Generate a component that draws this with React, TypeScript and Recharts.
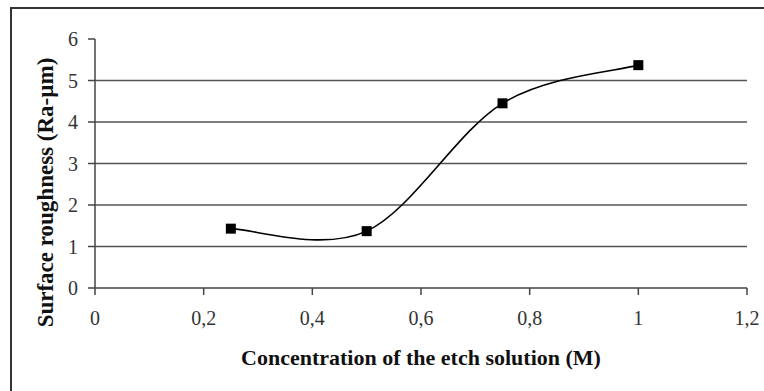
import React from 'react';
import { LineChart, Line, XAxis, YAxis, CartesianGrid, Label } from 'recharts';

// Etch concentration (M) and measured surface roughness (Ra, µm)
const concentration = [0.25, 0.5, 0.75, 1.0];
const roughness = [1.43, 1.37, 4.45, 5.37];

const xTicks = [0, 0.2, 0.4, 0.6, 0.8, 1, 1.2];
const yTicks = [0, 1, 2, 3, 4, 5, 6];
const gridValues = [1, 2, 3, 4, 5];

const data = concentration.map((c, i) => ({ c, ra: roughness[i] }));

// Catmull-Rom style smoothing (control points at 1/6 of neighbouring chord),
// the classic spreadsheet "smoothed line".
const smoothCurve = (context: any) => {
  let pts: [number, number][] = [];
  return {
    areaStart() {},
    areaEnd() {},
    lineStart() {
      pts = [];
    },
    lineEnd() {
      const n = pts.length;
      if (!n) return;
      context.moveTo(pts[0][0], pts[0][1]);
      for (let i = 0; i < n - 1; i++) {
        const p0 = pts[Math.max(i - 1, 0)];
        const p1 = pts[i];
        const p2 = pts[i + 1];
        const p3 = pts[Math.min(i + 2, n - 1)];
        const c1x = p1[0] + (p2[0] - p0[0]) / 6;
        const c1y = p1[1] + (p2[1] - p0[1]) / 6;
        const c2x = p2[0] - (p3[0] - p1[0]) / 6;
        const c2y = p2[1] - (p3[1] - p1[1]) / 6;
        context.bezierCurveTo(c1x, c1y, c2x, c2y, p2[0], p2[1]);
      }
    },
    point(x: number, y: number) {
      pts.push([+x, +y]);
    },
  };
};

const SquareDot = (props: any) => {
  const { cx, cy, index } = props;
  if (cx == null || cy == null) return null;
  return <rect key={`sq-${index}`} x={cx - 5} y={cy - 5} width={10} height={10} fill="#000" />;
};

const fmt = (v: number) => String(v).replace('.', ',');

const serif = '"Liberation Serif", "Times New Roman", serif';

const TickText = (props: any) => {
  const { x, y, payload, textAnchor, dy, axis } = props;
  return (
    <text
      x={x}
      y={y}
      dy={axis === 'x' ? '0.71em' : '0.355em'}
      textAnchor={textAnchor}
      fontFamily={serif}
      fontSize={20}
      fill="#333"
    >
      {fmt(payload.value)}
    </text>
  );
};

export default function App() {
  return (
    <div
      style={{
        position: 'absolute',
        left: 0,
        top: 0,
        width: 764,
        height: 391,
        background: '#fff',
        overflow: 'hidden',
        fontFamily: serif,
      }}
    >
      <div
        style={{
          position: 'absolute',
          left: 10,
          top: 7,
          width: 800,
          height: 420,
          border: '2px solid #333',
          boxSizing: 'border-box',
        }}
      />
      <LineChart
        width={764}
        height={391}
        data={data}
        margin={{ top: 39, right: 17, bottom: 13, left: 15 }}
        style={{ position: 'absolute', left: 0, top: 0, fontFamily: serif }}
      >
        <CartesianGrid horizontal vertical={false} horizontalValues={gridValues} stroke="#555" strokeWidth={1.5} />
        <XAxis
          dataKey="c"
          type="number"
          domain={[0, 1.2]}
          ticks={xTicks}
          height={90}
          tickSize={7}
          tickMargin={16}
          stroke="#444"
          strokeWidth={1.5}
          tick={<TickText axis="x" />}
        >
          <Label
            content={(p: any) => {
              const vb = p.viewBox;
              return (
                <text
                  x={vb.x + vb.width / 2}
                  y={vb.y + 77}
                  textAnchor="middle"
                  fontFamily={serif}
                  fontWeight="bold"
                  fontSize={22}
                  fill="#111"
                >
                  Concentration of the etch solution (M)
                </text>
              );
            }}
          />
        </XAxis>
        <YAxis
          type="number"
          domain={[0, 6]}
          ticks={yTicks}
          width={80}
          tickSize={7}
          tickMargin={10}
          stroke="#444"
          strokeWidth={1.5}
          tick={<TickText axis="y" />}
        >
          <Label
            content={(p: any) => {
              const vb = p.viewBox;
              const x = vb.x + 38;
              const y = vb.y + vb.height / 2 + 29;
              return (
                <text
                  x={x}
                  y={y}
                  transform={`rotate(-90 ${x} ${y})`}
                  textAnchor="middle"
                  fontFamily={serif}
                  fontWeight="bold"
                  fontSize={23}
                  fill="#111"
                >
                  Surface roughness (Ra-µm)
                </text>
              );
            }}
          />
        </YAxis>
        <Line
          dataKey="ra"
          type={smoothCurve as any}
          stroke="#000"
          strokeWidth={1.6}
          dot={SquareDot}
          activeDot={false}
          isAnimationActive={false}
        />
      </LineChart>
    </div>
  );
}
